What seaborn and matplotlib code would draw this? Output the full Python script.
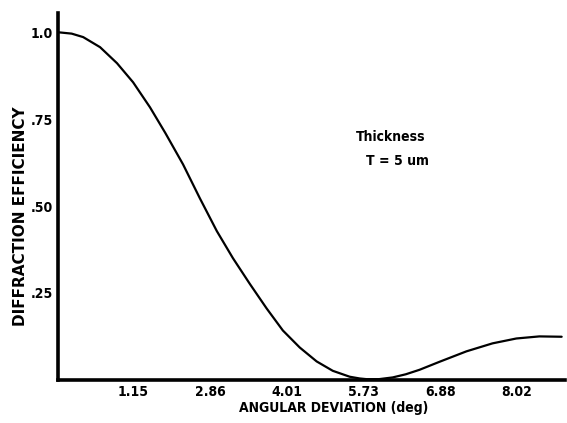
import matplotlib
matplotlib.use("Agg")
import matplotlib.pyplot as plt
import seaborn as sns
import pandas as pd

# Data (x in tick-spacing units; ticks at 1..6)
angle_units = [0.02, 0.20, 0.35, 0.57, 0.79, 1.00, 1.22, 1.42, 1.65, 1.87, 2.09, 2.30,
               2.52, 2.74, 2.95, 3.17, 3.39, 3.60, 3.82, 3.95, 4.04, 4.20, 4.38, 4.55,
               4.73, 4.99, 5.34, 5.68, 5.99, 6.29, 6.58]
efficiency = [1.000, 0.996, 0.986, 0.957, 0.911, 0.856, 0.784, 0.710, 0.620, 0.522,
              0.428, 0.350, 0.276, 0.205, 0.142, 0.093, 0.053, 0.026, 0.009, 0.004,
              0.002, 0.002, 0.007, 0.016, 0.029, 0.052, 0.082, 0.105, 0.119, 0.125,
              0.124]
x_tick_pos = [1, 2, 3, 4, 5, 6]
x_tick_labels = ["1.15", "2.86", "4.01", "5.73", "6.88", "8.02"]
y_tick_pos = [0.25, 0.50, 0.75, 1.0]
y_tick_labels = [".25", ".50", ".75", "1.0"]

sns.set_style("white")
plt.rcParams['font.family'] = ['DejaVu Sans']
plt.rcParams['text.color'] = 'black'
plt.rcParams['xtick.color'] = 'black'
plt.rcParams['ytick.color'] = 'black'

df = pd.DataFrame({"x": angle_units, "y": efficiency})

fig = plt.figure(figsize=(5.67, 4.23), dpi=100)
ax = fig.add_axes([0.102, 0.102, 0.894, 0.867])
sns.lineplot(data=df, x="x", y="y", ax=ax, color="black", linewidth=1.6)

ax.set_xlim(0.02, 6.62)
ax.set_ylim(0, 1.055)
for s in ["top", "right"]:
    ax.spines[s].set_visible(False)
for s in ["left", "bottom"]:
    ax.spines[s].set_linewidth(2.6)
    ax.spines[s].set_color("black")

fp = dict(fontsize=10, fontweight="bold", fontstretch="condensed")
ax.set_xticks(x_tick_pos)
ax.set_xticklabels(x_tick_labels, **fp)
ax.set_yticks(y_tick_pos)
ax.set_yticklabels(y_tick_labels, **fp)
ax.tick_params(axis="both", direction="inout", length=5, width=2, color="black", pad=1)

ax.set_xlabel("")
ax.set_ylabel("")
fig.text(0.589, 0.035, "ANGULAR DEVIATION (deg)", ha="center", va="center", **fp)
fig.text(0.037, 0.49, "DIFFRACTION EFFICIENCY", ha="center", va="center",
         rotation=90, fontsize=11, fontweight="bold")

ax.text(4.36, 0.70, "Thickness", ha="center", va="center", **fp)
ax.text(4.44, 0.63, "T = 5 um", ha="center", va="center", **fp)

fig.savefig("out.png", dpi=100)
